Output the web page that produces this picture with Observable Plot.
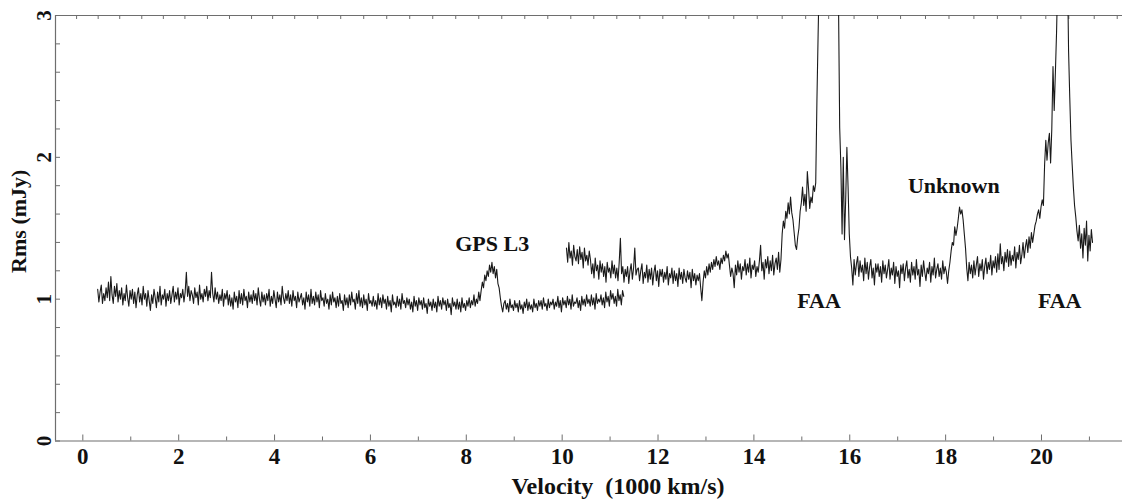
<!DOCTYPE html>
<html>
<head>
<meta charset="utf-8">
<script src="https://cdn.jsdelivr.net/npm/d3@7"></script>
<script src="https://cdn.jsdelivr.net/npm/@observablehq/plot@0.6"></script>
<style>
  html, body { margin: 0; padding: 0; background: #fff; }
  #chart svg { display: block; }
  #chart svg text { font-family: "Liberation Serif", "Times New Roman", serif !important; }
</style>
</head>
<body>
<div id="chart"></div>
<script>
// ---- data ----
const sampleStep = 0.025;         // velocity spacing of the typed samples (1000 km/s)
const lowBandStart = 0.31;        // first spectral window starts here
const highBandStart = 10.09;      // second spectral window starts here

// first window (0.31 .. 11.285), Rms in mJy
const rmsLowBand = [
  1.07, 0.98, 1.05, 1.10, 0.97, 1.04, 0.99, 1.08, 1.01, 1.12,
  0.99, 1.16, 1.03, 0.97, 1.09, 1.02, 1.11, 0.98, 1.06, 1.00,
  1.08, 0.96, 1.04, 0.99, 1.10, 1.01, 0.95, 1.06, 1.00, 1.07,
  0.97, 1.05, 0.94, 1.03, 1.08, 0.98, 1.04, 0.96, 1.09, 1.00,
  1.04, 0.95, 1.06, 0.99, 0.92, 1.03, 0.97, 1.07, 1.01, 0.94,
  1.05, 0.98, 1.09, 0.96, 1.03, 1.00, 1.07, 0.95, 1.04, 0.99,
  1.06, 0.97, 1.03, 1.09, 0.98, 1.05, 1.00, 1.08, 0.96, 1.04,
  1.01, 1.07, 0.98, 1.05, 1.19, 1.02, 1.09, 0.99, 1.06, 1.03,
  0.97, 1.08, 1.01, 1.05, 0.96, 1.10, 1.00, 1.04, 0.98, 1.07,
  1.02, 1.09, 0.99, 1.06, 1.01, 1.19, 1.04, 0.98, 1.08, 1.00,
  1.05, 0.97, 1.03, 0.99, 1.07, 0.95, 1.04, 1.00, 1.06, 0.96,
  1.03, 0.95, 1.01, 0.93, 1.05, 0.98, 1.02, 0.94, 1.06, 0.97,
  1.04, 0.96, 1.07, 0.99, 1.02, 0.94, 1.05, 0.98, 1.03, 0.97,
  1.06, 0.99, 1.04, 0.96, 1.08, 1.00, 0.95, 1.05, 0.98, 1.03,
  0.96, 1.04, 0.99, 1.07, 0.95, 1.02, 0.97, 1.06, 1.00, 0.94,
  1.05, 0.98, 1.03, 0.96, 1.09, 1.01, 0.97, 1.04, 0.99, 1.06,
  0.97, 1.03, 0.95, 1.06, 0.99, 1.02, 0.94, 1.05, 0.98, 1.01,
  1.04, 0.96, 1.01, 0.93, 1.05, 0.98, 1.03, 0.95, 1.07, 0.97,
  1.02, 0.96, 1.05, 0.98, 1.03, 0.94, 1.06, 0.99, 1.01, 0.95,
  1.04, 0.97, 1.00, 0.93, 1.03, 0.96, 1.05, 0.98, 1.01, 0.94,
  1.02, 0.95, 1.04, 0.97, 0.99, 0.92, 1.03, 0.96, 1.01, 0.94,
  1.03, 0.96, 1.05, 0.98, 1.00, 0.93, 1.04, 0.97, 1.06, 0.95,
  1.01, 0.94, 1.03, 0.96, 1.00, 0.92, 1.04, 0.97, 0.99, 0.95,
  1.02, 0.95, 0.99, 0.93, 1.04, 0.96, 1.01, 0.94, 1.03, 0.97,
  1.00, 0.93, 1.02, 0.95, 0.99, 0.91, 1.03, 0.96, 0.98, 0.94,
  1.02, 0.95, 1.00, 0.93, 1.04, 0.97, 0.99, 0.94, 1.01, 0.96,
  1.00, 0.93, 0.98, 0.91, 1.02, 0.95, 0.99, 0.92, 1.01, 0.96,
  0.99, 0.93, 1.01, 0.94, 0.97, 0.90, 1.00, 0.95, 0.98, 0.92,
  1.00, 0.94, 0.98, 0.91, 1.02, 0.95, 0.99, 0.93, 1.01, 0.96,
  0.99, 0.92, 1.00, 0.94, 0.97, 0.89, 1.01, 0.95, 0.98, 0.93,
  1.00, 0.93, 0.98, 0.91, 1.01, 0.94, 0.97, 0.92, 0.99, 0.95,
  1.01, 0.94, 0.99, 0.96, 1.03, 0.95, 1.00, 0.97, 1.05, 0.99,
  1.06, 1.12, 1.08, 1.17, 1.13, 1.20, 1.16, 1.24, 1.19, 1.26,
  1.18, 1.23, 1.15, 1.21, 1.11, 1.08, 1.01, 0.95, 0.91, 0.97,
  0.99, 0.93, 0.97, 0.91, 1.00, 0.94, 0.96, 0.92, 0.99, 0.94,
  0.97, 0.91, 0.99, 0.93, 0.96, 0.90, 0.98, 0.94, 1.00, 0.92,
  0.98, 0.93, 0.96, 0.91, 1.00, 0.94, 0.97, 0.92, 0.99, 0.95,
  0.99, 0.93, 1.01, 0.95, 0.97, 0.92, 1.00, 0.94, 0.98, 0.96,
  1.00, 0.93, 0.98, 0.95, 1.02, 0.94, 0.99, 0.91, 1.01, 0.96,
  0.99, 0.94, 1.02, 0.96, 1.00, 0.93, 1.03, 0.95, 0.98, 0.97,
  1.01, 0.94, 0.99, 0.92, 1.02, 0.96, 1.00, 0.95, 1.03, 0.97,
  1.00, 0.95, 1.03, 0.96, 1.01, 0.93, 1.04, 0.97, 1.00, 0.98,
  1.03, 0.96, 1.01, 0.94, 1.05, 0.98, 1.02, 0.95, 1.06, 1.00,
  1.04, 0.97, 1.02, 0.95, 1.07, 0.99, 1.03, 0.96, 1.06, 1.02
];

// second window (10.09 .. 21.065), Rms in mJy (values above 3 run off the top)
const rmsHighBand = [
  1.36, 1.26, 1.40, 1.29, 1.34, 1.24, 1.38, 1.30, 1.27, 1.35,
  1.25, 1.37, 1.28, 1.33, 1.22, 1.36, 1.27, 1.31, 1.24, 1.34,
  1.28, 1.18, 1.25, 1.15, 1.29, 1.20, 1.24, 1.14, 1.27, 1.19,
  1.25, 1.16, 1.23, 1.12, 1.26, 1.19, 1.22, 1.15, 1.27, 1.18,
  1.24, 1.15, 1.22, 1.13, 1.26, 1.43, 1.18, 1.23, 1.12, 1.21,
  1.16, 1.23, 1.11, 1.20, 1.25, 1.14, 1.22, 1.36, 1.17, 1.21,
  1.22, 1.13, 1.20, 1.25, 1.11, 1.19, 1.15, 1.24, 1.12, 1.21,
  1.14, 1.22, 1.10, 1.19, 1.24, 1.13, 1.20, 1.09, 1.21, 1.16,
  1.21, 1.12, 1.19, 1.14, 1.23, 1.10, 1.18, 1.15, 1.22, 1.11,
  1.20, 1.13, 1.18, 1.09, 1.22, 1.14, 1.19, 1.11, 1.21, 1.15,
  1.12, 1.20, 1.14, 1.19, 1.08, 1.21, 1.13, 1.18, 1.10, 1.17,
  1.13, 1.18, 1.08, 0.99, 1.12, 1.20, 1.15, 1.23, 1.17, 1.25,
  1.19, 1.26, 1.21, 1.28, 1.23, 1.30, 1.24, 1.27, 1.21, 1.29,
  1.25, 1.31, 1.27, 1.34, 1.29, 1.32, 1.24, 1.16, 1.22, 1.18,
  1.08, 1.24, 1.17, 1.27, 1.19, 1.25, 1.14, 1.23, 1.20, 1.28,
  1.17, 1.25, 1.19, 1.29, 1.15, 1.24, 1.21, 1.27, 1.16, 1.23,
  1.19, 1.27, 1.38, 1.20, 1.26, 1.14, 1.28, 1.22, 1.30, 1.18,
  1.27, 1.20, 1.31, 1.17, 1.25, 1.29, 1.21, 1.33, 1.19, 1.28,
  1.46, 1.55, 1.50, 1.62, 1.57, 1.68, 1.60, 1.72, 1.61, 1.56,
  1.47, 1.38, 1.35, 1.44, 1.50, 1.62, 1.68, 1.79, 1.66, 1.74,
  1.62, 1.90, 1.78, 1.64, 1.72, 1.68, 1.80, 1.76, 1.82, 2.40,
  2.87, 3.30, 3.70, 4.00, 4.30, 4.50, 4.60, 4.70, 4.70, 4.60,
  4.50, 4.30, 4.10, 3.90, 3.70, 3.50, 3.30, 3.10, 2.21, 1.93,
  1.46, 2.00, 1.42, 1.70, 2.07, 1.79, 1.46, 1.30, 1.22, 1.10,
  1.28, 1.17, 1.25, 1.30, 1.16, 1.27, 1.19, 1.24, 1.13, 1.29,
  1.18, 1.26, 1.14, 1.23, 1.28, 1.15, 1.22, 1.10, 1.25, 1.19,
  1.25, 1.16, 1.23, 1.12, 1.27, 1.18, 1.24, 1.15, 1.21, 1.28,
  1.14, 1.22, 1.17, 1.26, 1.11, 1.23, 1.16, 1.20, 1.08, 1.24,
  1.18, 1.25, 1.13, 1.22, 1.27, 1.15, 1.21, 1.12, 1.26, 1.17,
  1.23, 1.14, 1.28, 1.17, 1.21, 1.09, 1.24, 1.16, 1.27, 1.19,
  1.13, 1.22, 1.18, 1.26, 1.12, 1.23, 1.17, 1.29, 1.15, 1.21,
  1.25, 1.16, 1.22, 1.14, 1.27, 1.18, 1.23, 1.19, 1.11, 1.20,
  1.26, 1.34, 1.40, 1.38, 1.51, 1.45, 1.50, 1.57, 1.65, 1.60,
  1.63, 1.56, 1.46, 1.36, 1.22, 1.13, 1.26, 1.18, 1.24, 1.15,
  1.27, 1.17, 1.24, 1.30, 1.16, 1.25, 1.20, 1.28, 1.14, 1.23,
  1.29, 1.18, 1.26, 1.21, 1.31, 1.17, 1.27, 1.22, 1.30, 1.19,
  1.32, 1.21, 1.39, 1.25, 1.30, 1.20, 1.33, 1.26, 1.35, 1.23,
  1.34, 1.24, 1.31, 1.27, 1.37, 1.22, 1.33, 1.28, 1.38, 1.25,
  1.31, 1.40, 1.29, 1.37, 1.42, 1.33, 1.44, 1.36, 1.47, 1.40,
  1.46, 1.52, 1.55, 1.60, 1.63, 1.57, 1.65, 1.70, 1.66, 1.95,
  2.12, 1.98, 2.10, 2.17, 1.96, 2.20, 2.64, 2.33, 2.60, 2.89,
  3.30, 3.80, 4.20, 4.40, 4.50, 4.40, 4.20, 3.80, 3.40, 2.75,
  2.42, 2.12, 1.95, 1.79, 1.66, 1.58, 1.48, 1.41, 1.52, 1.36,
  1.46, 1.29, 1.50, 1.38, 1.55, 1.27, 1.45, 1.34, 1.49, 1.40
];

// axis ticks
const xTickLabels = [0, 2, 4, 6, 8, 10, 12, 14, 16, 18, 20];
const xMinorTicks = [1, 3, 5, 7, 9, 11, 13, 15, 17, 19, 21];
const yTickLabels = [0, 1, 2, 3];
const yMinorTicks = [0.2, 0.4, 0.6, 0.8, 1.2, 1.4, 1.6, 1.8, 2.2, 2.4, 2.6, 2.8];
const topTicks = [
  -0.13, 0.32, 0.77, 1.23, 1.68, 2.13, 2.60, 3.06, 3.52, 3.96, 4.42,
  4.90, 5.38, 5.86, 6.34, 6.82, 7.30, 7.78, 8.26, 8.74, 9.22, 9.70,
  10.18, 10.66, 11.14, 11.62, 12.10, 12.58, 13.06, 13.58, 14.07, 14.59,
  15.08, 15.56, 16.09, 16.58, 17.06, 17.58, 18.07, 18.59, 19.08, 19.57,
  20.09, 20.57, 21.10, 21.58
];

// annotations
const noteLabels = ["GPS L3", "FAA", "Unknown", "FAA"];
const noteVelocity = [8.54, 15.36, 18.17, 20.38];
const noteRms = [1.39, 0.984, 1.795, 0.984];

// ---- build ----
const spectrum = [
  ...rmsLowBand.map((r, i) => ({v: lowBandStart + i * sampleStep, r, band: "low"})),
  ...rmsHighBand.map((r, i) => ({v: highBandStart + i * sampleStep, r, band: "high"}))
];
const notes = noteLabels.map((t, i) => ({t, v: noteVelocity[i], r: noteRms[i]}));

const W = 1125, H = 500;
const mL = 55, mR = 3, mT = 15, mB = 59.5;
const frameW = W - mL - mR, frameH = H - mT - mB;
const xDomain = [-0.57, 21.69];
const axisColor = "#6e6e6e";
const font = "Liberation Serif";
const textStyle = {fontFamily: font, fontWeight: "bold", fill: "#111", textAnchor: "middle", lineAnchor: "middle"};

const chart = Plot.plot({
  width: W,
  height: H,
  marginLeft: mL,
  marginRight: mR,
  marginTop: mT,
  marginBottom: mB,
  style: {fontFamily: font, background: "#fff"},
  x: {domain: xDomain, axis: null},
  y: {domain: [0, 3], axis: null},
  marks: [
    // axis lines
    Plot.ruleY([0], {stroke: axisColor, strokeWidth: 1.2}),
    Plot.ruleY([3], {stroke: axisColor, strokeWidth: 1.2}),
    Plot.ruleX([xDomain[0]], {stroke: axisColor, strokeWidth: 1.2}),
    // inward ticks
    Plot.tickX(xTickLabels, {x: d => d, insetTop: frameH - 6, stroke: axisColor}),
    Plot.tickX(xMinorTicks, {x: d => d, insetTop: frameH - 4, stroke: axisColor}),
    Plot.tickX(topTicks, {x: d => d, insetBottom: frameH - 4, stroke: axisColor}),
    Plot.tickY(yTickLabels.concat(yMinorTicks), {y: d => d, insetRight: frameW - 5, stroke: axisColor}),
    // spectrum
    Plot.line(spectrum, {x: "v", y: "r", z: "band", stroke: "#1a1a1a", strokeWidth: 1.1, clip: true}),
    // tick labels
    Plot.text(xTickLabels, {x: d => d, frameAnchor: "bottom", dy: 15.5, text: d => String(d),
      fontSize: 23, ...textStyle}),
    Plot.text(yTickLabels, {y: d => d, frameAnchor: "left", dx: -11.5, text: d => String(d),
      rotate: -90, fontSize: 21, ...textStyle}),
    // axis titles
    Plot.text(["Velocity\u00a0 (1000 km/s)"], {frameAnchor: "bottom", dx: 29, dy: 45.5,
      fontSize: 24, ...textStyle}),
    Plot.text(["Rms (mJy)"], {frameAnchor: "left", dx: -37, dy: -7, rotate: -90,
      fontSize: 22, ...textStyle}),
    // annotations
    Plot.text(notes, {x: "v", y: "r", text: "t", fontSize: 22, ...textStyle})
  ]
});
document.getElementById("chart").appendChild(chart);
</script>
</body>
</html>
